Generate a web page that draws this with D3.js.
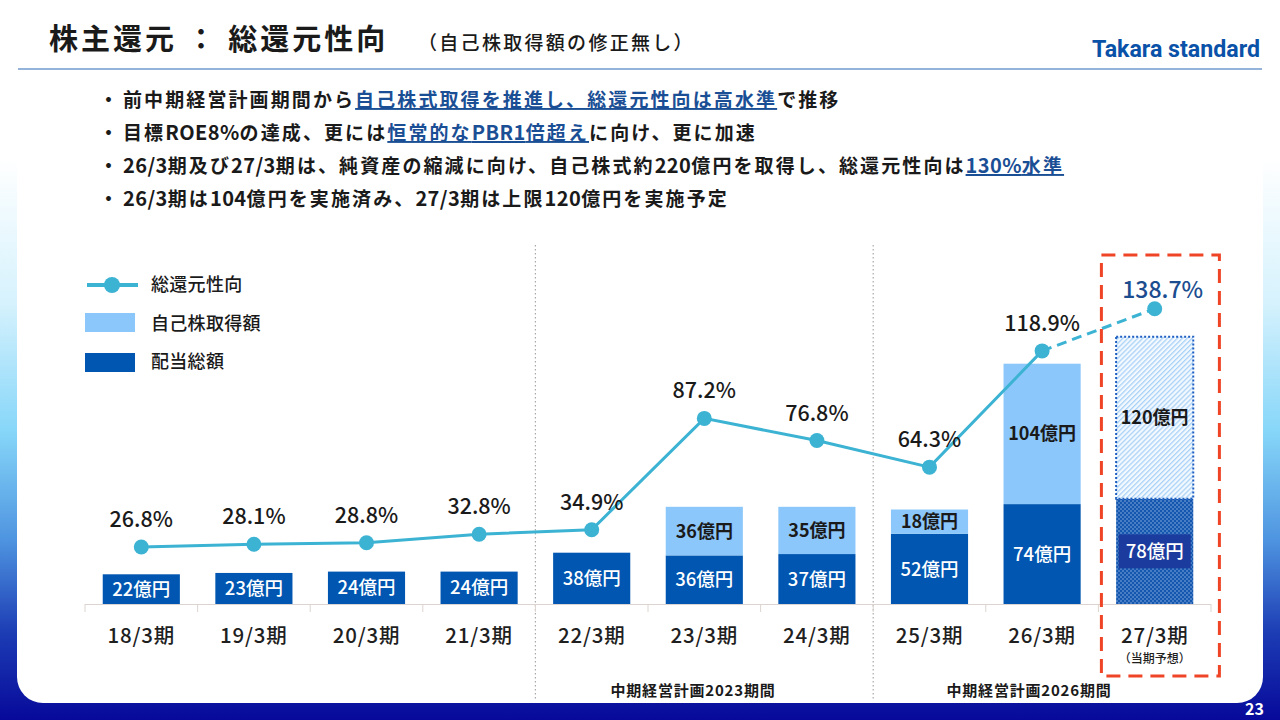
<!DOCTYPE html>
<html>
<head>
<meta charset="utf-8">
<script src="https://cdn.jsdelivr.net/npm/d3@7"></script>
<style>
  html, body { margin: 0; padding: 0; background: #fff; }
  svg { display: block; font-family: "Noto Sans CJK JP", "Noto Sans", sans-serif; }
</style>
</head>
<body>
<div id="viz"></div>
<script>
// chart data
const categories = ["18/3期", "19/3期", "20/3期", "21/3期", "22/3期", "23/3期", "24/3期", "25/3期", "26/3期", "27/3期"];
const dividends = [22, 23, 24, 24, 38, 36, 37, 52, 74, 78];
const buybacks = [0, 0, 0, 0, 0, 36, 35, 18, 104, 120];
const payoutRatio = [26.8, 28.1, 28.8, 32.8, 34.9, 87.2, 76.8, 64.3, 118.9, 138.7];
const legendLabels = ["総還元性向", "自己株取得額", "配当総額"];
const periodLabels = ["中期経営計画2023期間", "中期経営計画2026期間"];
const bullets = [
  [["前中期経営計画期間から", false], ["自己株式取得を推進し、総還元性向は高水準", true], ["で推移", false]],
  [["目標ROE8%の達成、更には", false], ["恒常的なPBR1倍超え", true], ["に向け、更に加速", false]],
  [["26/3期及び27/3期は、純資産の縮減に向け、自己株式約220億円を取得し、総還元性向は", false], ["130%水準", true]],
  [["26/3期は104億円を実施済み、27/3期は上限120億円を実施予定", false]]
];

const W = 1280, H = 720;
const darkBlue = "#0056b1", lightBlue = "#8cc7fb", lineColor = "#3cb3d3";

const svg = d3.select("#viz").append("svg")
  .attr("width", W)
  .attr("height", H);

const defs = svg.append("defs");

// page background gradient
const grad = defs.append("linearGradient")
  .attr("id", "bg")
  .attr("x1", 0).attr("y1", 0).attr("x2", 0).attr("y2", 1);
[[0, "#ffffff"], [0.22, "#ffffff"], [0.42, "#d6f2fd"], [0.6, "#86d6f9"], [0.75, "#4e94e0"], [0.88, "#1c3cb4"], [1, "#07099a"]]
  .forEach(s => grad.append("stop").attr("offset", s[0]).attr("stop-color", s[1]));

// hatch pattern for planned buyback
const hatch = defs.append("pattern")
  .attr("id", "hatch")
  .attr("patternUnits", "userSpaceOnUse")
  .attr("width", 3.5).attr("height", 3.5)
  .attr("patternTransform", "rotate(-45)");
hatch.append("rect").attr("width", 3.5).attr("height", 3.5).attr("fill", "#f4f9ff");
hatch.append("rect").attr("width", 3.5).attr("height", 1.3).attr("fill", "#a9d2f7");

// dot pattern for planned dividend
const dots = defs.append("pattern")
  .attr("id", "dots")
  .attr("patternUnits", "userSpaceOnUse")
  .attr("width", 4).attr("height", 4);
dots.append("rect").attr("width", 4).attr("height", 4).attr("fill", "#1556ae");
dots.append("circle").attr("cx", 1).attr("cy", 1).attr("r", 0.7).attr("fill", "#9fc1ec");
dots.append("circle").attr("cx", 3).attr("cy", 3).attr("r", 0.7).attr("fill", "#9fc1ec");

svg.append("rect").attr("width", W).attr("height", H).attr("fill", "url(#bg)");

// white card
svg.append("rect")
  .attr("x", 17).attr("y", -60)
  .attr("width", 1246).attr("height", 763)
  .attr("rx", 26)
  .attr("fill", "#fff");

// page number
svg.append("text")
  .attr("x", 1264).attr("y", 715)
  .attr("text-anchor", "end")
  .attr("fill", "#fff")
  .attr("font-weight", 700)
  .attr("font-size", 16)
  .text("23");

// header
svg.append("text")
  .attr("x", 49).attr("y", 50)
  .attr("font-size", 29)
  .attr("font-weight", 700)
  .attr("letter-spacing", 3)
  .attr("fill", "#1a1a1a")
  .text("株主還元 ： 総還元性向");

svg.append("text")
  .attr("x", 418).attr("y", 50)
  .attr("font-size", 19)
  .attr("font-weight", 500)
  .attr("letter-spacing", 2.3)
  .attr("fill", "#1a1a1a")
  .text("（自己株取得額の修正無し）");

svg.append("text")
  .attr("x", 1092).attr("y", 57)
  .attr("font-family", "Roboto, sans-serif")
  .attr("font-size", 23)
  .attr("font-weight", 700)
  .attr("textLength", 168)
  .attr("lengthAdjust", "spacingAndGlyphs")
  .attr("fill", "#0a52a8")
  .text("Takara standard");

svg.append("line")
  .attr("x1", 18).attr("x2", 1262)
  .attr("y1", 69).attr("y2", 69)
  .attr("stroke", "#93b3da")
  .attr("stroke-width", 2);

// bullet points: wide spacing for kana/kanji, tight for latin and digits
const bulletG = svg.append("g");
bullets.forEach((parts, i) => {
  const y = 107 + i * 33;
  bulletG.append("text")
    .attr("x", 99).attr("y", y)
    .attr("font-size", 19).attr("font-weight", 700)
    .attr("fill", "#1a1a1a")
    .text("・");
  const t = bulletG.append("text")
    .attr("x", 123).attr("y", y)
    .attr("font-size", 19)
    .attr("font-weight", 700)
    .attr("fill", "#1a1a1a");
  parts.forEach(p => {
    const runs = p[0].match(/[\x20-\x7e]+|[^\x20-\x7e]+/g);
    runs.forEach(run => {
      const ascii = /^[\x20-\x7e]+$/.test(run);
      t.append("tspan")
        .attr("fill", p[1] ? "#1b4f95" : "#1a1a1a")
        .attr("font-size", ascii ? 20 : 19)
        .attr("letter-spacing", ascii ? 0.4 : 2.1)
        .style("text-decoration", p[1] ? "underline" : "none")
        .text(run);
    });
  });
});

// scales
const x = d3.scaleBand()
  .domain(categories)
  .range([85, 1211])
  .padding(0);
const barW = x.bandwidth() * 0.685;
const yAmt = d3.scaleLinear().domain([0, 200]).range([604, 334]);
const yPct = d3.scaleLinear().domain([0, 140]).range([604, 306]);

const cx = d => x(d) + x.bandwidth() / 2;

// period separators
[categories[4], categories[7]].forEach(c => {
  svg.append("line")
    .attr("x1", x(c)).attr("x2", x(c))
    .attr("y1", 245).attr("y2", 700)
    .attr("stroke", "#a9a9a9")
    .attr("stroke-width", 1.2)
    .attr("stroke-dasharray", "1.5,2.5");
});
periodLabels.forEach((lab, i) => {
  svg.append("text")
    .attr("x", i === 0 ? 693 : 1029)
    .attr("y", 696)
    .attr("text-anchor", "middle")
    .attr("font-size", 15)
    .attr("font-weight", 700)
    .attr("letter-spacing", 0.8)
    .attr("fill", "#1a1a1a")
    .text(lab);
});

// axis line and boundary ticks
svg.append("line")
  .attr("x1", 85).attr("x2", 1211)
  .attr("y1", 604.5).attr("y2", 604.5)
  .attr("stroke", "#dcd4d0");
categories.concat([null]).forEach(c => {
  const xx = c ? x(c) : x(categories[9]) + x.bandwidth();
  svg.append("line")
    .attr("x1", xx).attr("x2", xx)
    .attr("y1", 604).attr("y2", 612)
    .attr("stroke", "#dcd4d0");
});

const last = categories.length - 1;

// bars
const bars = svg.append("g");
categories.forEach((c, i) => {
  const bx = cx(c) - barW / 2;
  const planned = i === last;
  const dTop = yAmt(dividends[i]);
  bars.append("rect")
    .attr("x", bx).attr("y", dTop)
    .attr("width", barW).attr("height", yAmt(0) - dTop)
    .attr("fill", planned ? "url(#dots)" : darkBlue);
  if (buybacks[i] > 0) {
    const bTop = yAmt(dividends[i] + buybacks[i]);
    const r = bars.append("rect")
      .attr("x", bx).attr("y", bTop)
      .attr("width", barW).attr("height", dTop - bTop)
      .attr("fill", planned ? "url(#hatch)" : lightBlue);
    if (planned) {
      r.attr("stroke", "#1f5fc2")
        .attr("stroke-width", 2)
        .attr("stroke-dasharray", "2,2");
    }
    bars.append("text")
      .attr("x", cx(c)).attr("y", (bTop + dTop) / 2)
      .attr("dy", "0.36em")
      .attr("text-anchor", "middle")
      .attr("font-size", 18)
      .attr("font-weight", 700)
      .attr("fill", "#1a1a1a")
      .text(buybacks[i] + "億円");
  }
  const ly = (dTop + yAmt(0)) / 2;
  if (planned) {
    bars.append("rect")
      .attr("x", cx(c) - 36).attr("y", ly - 17)
      .attr("width", 72).attr("height", 34)
      .attr("fill", "#1c3b9e");
  }
  bars.append("text")
    .attr("x", cx(c)).attr("y", ly)
    .attr("dy", "0.36em")
    .attr("text-anchor", "middle")
    .attr("font-size", 18.5)
    .attr("font-weight", 500)
    .attr("fill", "#fff")
    .text(dividends[i] + "億円");
});

// category labels
categories.forEach(c => {
  svg.append("text")
    .attr("x", cx(c)).attr("y", 643)
    .attr("text-anchor", "middle")
    .attr("font-size", 20.5)
    .attr("font-weight", 500)
    .attr("letter-spacing", 0.8)
    .attr("fill", "#1f1f1f")
    .text(c);
});
svg.append("text")
  .attr("x", cx(categories[last])).attr("y", 663)
  .attr("text-anchor", "middle")
  .attr("font-size", 12)
  .attr("font-weight", 500)
  .attr("fill", "#1f1f1f")
  .text("（当期予想）");

// payout ratio line
const pts = categories.map((c, i) => [cx(c), yPct(payoutRatio[i])]);
const line = d3.line();
svg.append("path")
  .attr("d", line(pts.slice(0, last)))
  .attr("fill", "none")
  .attr("stroke", lineColor)
  .attr("stroke-width", 3);
svg.append("path")
  .attr("d", line(pts.slice(last - 1)))
  .attr("fill", "none")
  .attr("stroke", lineColor)
  .attr("stroke-width", 3)
  .attr("stroke-dasharray", "10,6");
svg.append("g").selectAll("circle")
  .data(pts)
  .join("circle")
  .attr("cx", d => d[0]).attr("cy", d => d[1])
  .attr("r", 7.5)
  .attr("fill", lineColor);

svg.append("g").selectAll("text")
  .data(pts)
  .join("text")
  .attr("x", (d, i) => d[0] + (i === last ? 8 : 0))
  .attr("y", (d, i) => d[1] - (i === last ? 11 : 20))
  .attr("text-anchor", "middle")
  .attr("font-size", (d, i) => i === last ? 23 : 21.5)
  .attr("font-weight", 500)
  .attr("fill", (d, i) => i === last ? "#1b4d8f" : "#1a1a1a")
  .text((d, i) => payoutRatio[i].toFixed(1) + "%");

// red dashed box around forecast
svg.append("rect")
  .attr("x", x(categories[last]) + 3).attr("y", 255)
  .attr("width", 118).attr("height", 421)
  .attr("fill", "none")
  .attr("stroke", "#ef4426")
  .attr("stroke-width", 3)
  .attr("stroke-dasharray", "14,8");

// legend
const lg = svg.append("g");
lg.append("line")
  .attr("x1", 87).attr("x2", 138)
  .attr("y1", 285).attr("y2", 285)
  .attr("stroke", lineColor).attr("stroke-width", 4);
lg.append("circle")
  .attr("cx", 112).attr("cy", 285).attr("r", 8)
  .attr("fill", lineColor);
lg.append("rect")
  .attr("x", 85).attr("y", 313).attr("width", 50).attr("height", 19)
  .attr("fill", lightBlue);
lg.append("rect")
  .attr("x", 85).attr("y", 353).attr("width", 50).attr("height", 19)
  .attr("fill", darkBlue);
legendLabels.forEach((lab, i) => {
  lg.append("text")
    .attr("x", 151).attr("y", 285 + i * 38.5)
    .attr("dy", "0.36em")
    .attr("font-size", 18)
    .attr("font-weight", 500)
    .attr("letter-spacing", 0.3)
    .attr("fill", "#1a1a1a")
    .text(lab);
});
</script>
</body>
</html>
